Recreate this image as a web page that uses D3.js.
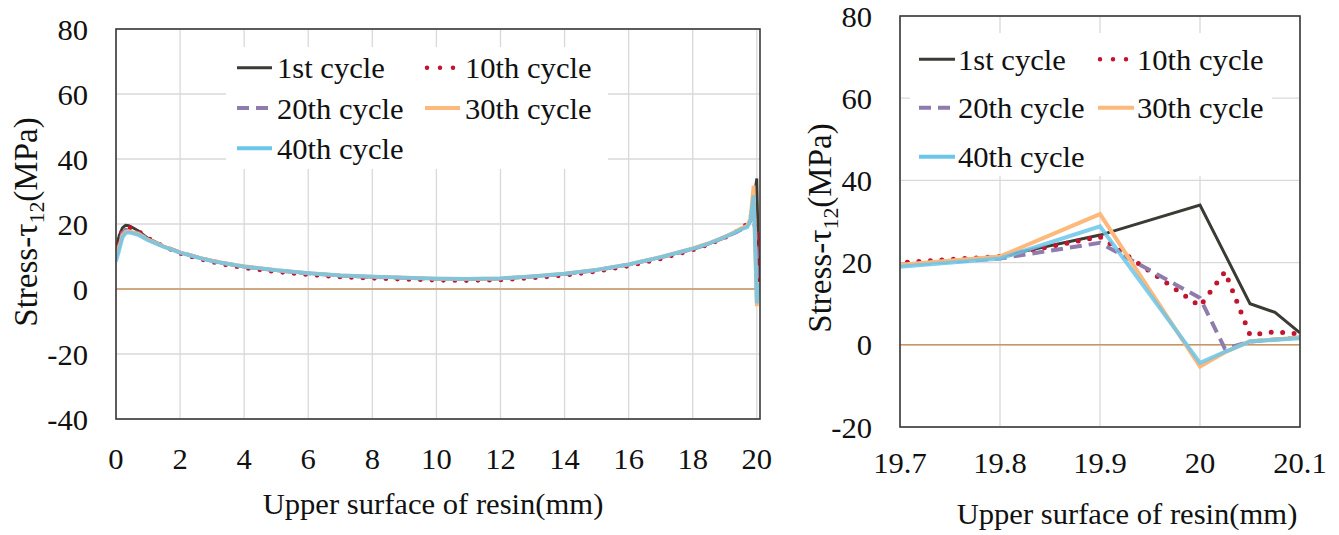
<!DOCTYPE html>
<html><head><meta charset="utf-8">
<script src="https://cdn.jsdelivr.net/npm/d3@7"></script>
<style>
body{margin:0;background:#fff}
text{font-family:"Liberation Serif","Times New Roman",serif;fill:#111}
</style>
</head><body>
<svg id="chart" width="1339" height="535"></svg>
<script>
// ---------------- DATA ----------------
const seriesNames = ["1st cycle", "10th cycle", "20th cycle", "30th cycle", "40th cycle"];
// position along the upper surface of resin (mm)
const xPos = [0, 0.1, 0.2, 0.3, 0.4, 0.5, 0.7, 1, 1.5, 2, 2.5, 3, 3.5, 4, 5, 6, 7, 8, 9, 10,
  11, 12, 13, 14, 15, 16, 17, 18, 18.5, 19, 19.3, 19.5, 19.7, 19.8, 19.9, 20, 20.025, 20.05, 20.075, 20.1];
// shear stress tau12 (MPa)
const cycle1 = [12.5, 16.5, 18.8, 19.6, 19.5, 19.0, 17.9, 15.6, 13.1, 11.2, 9.8, 8.6, 7.6, 6.9, 5.7, 4.8, 4.1, 3.7, 3.4, 3.1,
  3.0, 3.2, 3.8, 4.6, 5.8, 7.5, 9.7, 12.3, 13.9, 15.9, 17.3, 18.4, 19.5, 21.5, 26.7, 34.0, 22.0, 10.0, 7.9, 2.9];
const cycle10 = [10.5, 15.0, 18.2, 19.0, 19.0, 18.7, 17.8, 15.6, 13.0, 11.0, 9.5, 8.3, 7.3, 6.5, 5.3, 4.4, 3.7, 3.3, 3.0, 2.7,
  2.6, 2.8, 3.4, 4.2, 5.4, 7.1, 9.3, 12.0, 13.7, 15.8, 17.3, 18.5, 20.0, 21.5, 26.3, 9.4, 17.8, 2.4, 3.2, 2.6];
const cycle20 = [10.0, 14.0, 17.2, 18.2, 18.2, 17.9, 17.2, 15.4, 13.1, 11.3, 9.9, 8.7, 7.7, 6.9, 5.7, 4.8, 4.1, 3.7, 3.4, 3.1,
  3.0, 3.2, 3.8, 4.6, 5.8, 7.5, 9.7, 12.3, 13.9, 15.9, 17.2, 18.2, 19.5, 21.0, 24.8, 11.4, -1.0, 0.8, 1.3, 1.8];
const cycle30 = [9.5, 13.0, 16.5, 17.6, 17.7, 17.5, 16.9, 15.2, 13.0, 11.3, 9.9, 8.7, 7.7, 7.0, 5.8, 4.9, 4.2, 3.8, 3.5, 3.2,
  3.1, 3.3, 3.9, 4.7, 5.9, 7.6, 9.8, 12.5, 14.1, 16.1, 17.5, 18.6, 19.5, 21.5, 31.8, -5.3, -1.8, 0.9, 1.3, 1.8];
const cycle40 = [8.5, 12.0, 15.8, 17.2, 17.4, 17.2, 16.6, 15.0, 12.9, 11.2, 9.8, 8.6, 7.7, 6.9, 5.8, 4.9, 4.2, 3.8, 3.5, 3.2,
  3.1, 3.3, 3.9, 4.7, 5.9, 7.6, 9.8, 12.4, 14.0, 16.0, 17.3, 18.3, 19.0, 21.0, 28.8, -4.4, -1.7, 0.8, 1.2, 1.6];

const leftXTicks = [0, 2, 4, 6, 8, 10, 12, 14, 16, 18, 20];
const leftYTicks = [-40, -20, 0, 20, 40, 60, 80];
const rightXTicks = [19.7, 19.8, 19.9, 20, 20.1];
const rightYTicks = [-20, 0, 20, 40, 60, 80];
const xTitle = "Upper surface of resin(mm)";

// ---------------- STYLE ----------------
const seriesValues = [cycle1, cycle10, cycle20, cycle30, cycle40];
const styles = [
  {color: "#3b3b34", width: 3, dash: null, cap: "butt", opacity: 1},
  {color: "#c2142e", width: 5, dash: "0 11.5", cap: "round", opacity: 1},
  {color: "#8f7cad", width: 4, dash: "12 7", cap: "butt", opacity: 1},
  {color: "#fdb97c", width: 4, dash: null, cap: "butt", opacity: 1},
  {color: "#6cc6ea", width: 4, dash: null, cap: "butt", opacity: 0.85}
];
const SX = 1.02; // horizontal text stretch
const FS = 30;

const svg = d3.select("#chart");

function label(g, x, y, str, anchor, size) {
  return g.append("text")
    .attr("transform", `translate(${x},${y}) scale(${SX},1)`)
    .attr("text-anchor", anchor)
    .style("font-size", (size || FS) + "px")
    .text(str);
}

function drawPanel(cfg) {
  const x = d3.scaleLinear().domain(cfg.xDomain).range([cfg.left, cfg.right]);
  const y = d3.scaleLinear().domain(cfg.yDomain).range([cfg.bottom, cfg.top]);
  const g = svg.append("g");

  // grid
  g.selectAll(".vg").data(cfg.xTicks).enter().append("line")
    .attr("x1", d => x(d)).attr("x2", d => x(d))
    .attr("y1", cfg.top).attr("y2", cfg.bottom)
    .attr("stroke", "#d9d9d9").attr("stroke-width", 1.3);
  g.selectAll(".hg").data(cfg.yTicks).enter().append("line")
    .attr("x1", cfg.left).attr("x2", cfg.right)
    .attr("y1", d => y(d)).attr("y2", d => y(d))
    .attr("stroke", "#d9d9d9").attr("stroke-width", 1.3);

  // zero line
  g.append("line").attr("x1", cfg.left).attr("x2", cfg.right)
    .attr("y1", y(0)).attr("y2", y(0))
    .attr("stroke", "#c8965e").attr("stroke-width", 1.6);

  // clip
  const cid = "clip" + cfg.id;
  svg.append("defs").append("clipPath").attr("id", cid)
    .append("rect").attr("x", cfg.left).attr("y", cfg.top)
    .attr("width", cfg.right - cfg.left).attr("height", cfg.bottom - cfg.top);

  const line = d3.line().x(d => x(d[0])).y(d => y(d[1]));
  const lg = g.append("g").attr("clip-path", `url(#${cid})`);
  seriesValues.forEach((vals, i) => {
    const s = styles[i];
    const pts = xPos.map((xv, k) => [xv, vals[k]]);
    lg.append("path").datum(pts).attr("d", line)
      .attr("fill", "none").attr("stroke", s.color)
      .attr("stroke-width", cfg.lw * s.width)
      .attr("stroke-dasharray", s.dash)
      .attr("stroke-linecap", s.cap)
      .attr("stroke-linejoin", "miter")
      .attr("opacity", s.opacity);
  });

  // border
  g.append("rect").attr("x", cfg.left).attr("y", cfg.top)
    .attr("width", cfg.right - cfg.left).attr("height", cfg.bottom - cfg.top)
    .attr("fill", "none").attr("stroke", "#3a3a3a").attr("stroke-width", 1.6);

  // tick labels
  cfg.yTicks.forEach(t => label(g, cfg.left - 28, y(t) + 10.5, String(t), "end"));
  cfg.xTicks.forEach(t => label(g, x(t), cfg.xLabelY, String(t), "middle"));

  // axis titles
  label(g, cfg.xTitleX, cfg.xTitleY, xTitle, "middle");
  const yt = g.append("text")
    .attr("transform", `translate(${cfg.yTitleX},${cfg.yTitleY}) rotate(-90)`)
    .attr("text-anchor", "middle").style("font-size", "33px");
  yt.append("tspan").text("Stress-τ");
  yt.append("tspan").text("12").style("font-size", "22px").attr("dy", 7);
  yt.append("tspan").text("(MPa)").attr("dy", -7);

  // legend
  const L = cfg.legend;
  g.append("rect").attr("x", L.box[0]).attr("y", L.box[1])
    .attr("width", L.box[2]).attr("height", L.box[3]).attr("fill", "#fff");
  seriesNames.forEach((name, i) => {
    const s = styles[i];
    const col = i % 2, row = Math.floor(i / 2);
    const sx = L.cols[col], sy = L.rows[row];
    const dotted = s.cap === "round";
    g.append("line").attr("x1", sx + (dotted ? 2 : 0)).attr("x2", sx + L.sample)
      .attr("y1", sy).attr("y2", sy)
      .attr("stroke", s.color).attr("stroke-width", dotted ? 4.5 : s.width)
      .attr("stroke-dasharray", dotted ? "0 13" : s.dash)
      .attr("stroke-linecap", s.cap);
    label(g, sx + L.textOff, sy + 10.5, name, "start");
  });
}

drawPanel({
  id: "L", left: 116, right: 760, top: 29, bottom: 419,
  xDomain: [0, 20.1], yDomain: [-40, 80],
  xTicks: leftXTicks, yTicks: leftYTicks, lw: 0.95,
  xLabelY: 469, xTitleX: 433, xTitleY: 514,
  yTitleX: 37, yTitleY: 222,
  legend: {box: [226, 47, 382, 122], cols: [237, 425], rows: [67.7, 108, 148.3], sample: 35, textOff: 40}
});

drawPanel({
  id: "R", left: 900, right: 1300, top: 16, bottom: 427,
  xDomain: [19.7, 20.1], yDomain: [-20, 80],
  xTicks: rightXTicks, yTicks: rightYTicks, lw: 1,
  xLabelY: 473, xTitleX: 1127, xTitleY: 524,
  yTitleX: 831, yTitleY: 228,
  legend: {box: [910, 33, 362, 143], cols: [919, 1098], rows: [59.3, 107.7, 156.7], sample: 36, textOff: 39}
});
</script>
</body></html>
